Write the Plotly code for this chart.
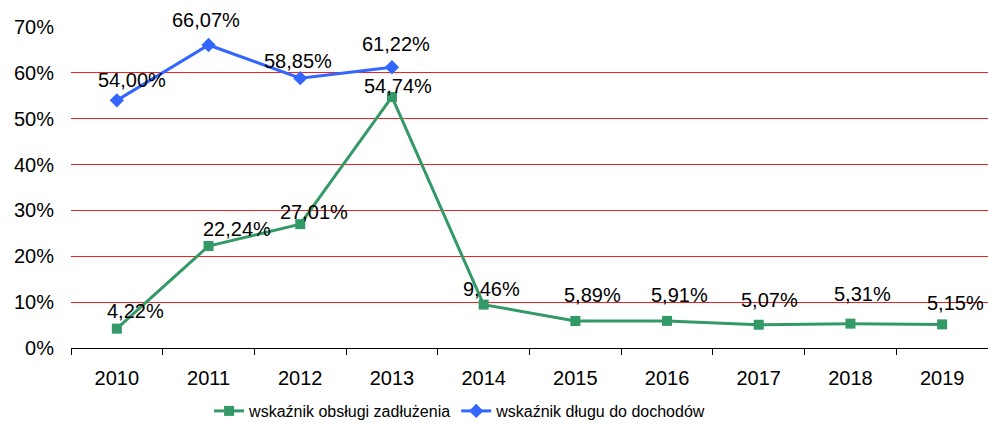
import plotly.graph_objects as go

# Years on the category axis
years = ["2010", "2011", "2012", "2013", "2014", "2015", "2016", "2017", "2018", "2019"]

# Debt service ratio (%), all years
obsluga = [4.22, 22.24, 27.01, 54.74, 9.46, 5.89, 5.91, 5.07, 5.31, 5.15]

# Debt-to-revenue ratio (%), 2010-2013 only
dlug_years = ["2010", "2011", "2012", "2013"]
dlug = [54.00, 66.07, 58.85, 61.22]

y_ticks = [0, 10, 20, 30, 40, 50, 60, 70]
y_tick_text = [f"{v}%" for v in y_ticks]

# Pixel nudges for the value labels (dx right, dy up)
obsluga_label_shift = [(19, 18), (28, 17), (14, 12), (6, 11), (8, 16),
                       (17, 26), (12, 26), (11, 25), (12, 30), (13, 21)]
dlug_label_shift = [(15, 20), (-3, 25), (-2, 17), (4, 23)]

GREEN = "#339966"
BLUE = "#3366FF"
FONT = "Liberation Sans, Arial, sans-serif"


def pl(v):
    return f"{v:.2f}".replace(".", ",") + "%"


fig = go.Figure()
fig.add_trace(go.Scatter(
    x=years, y=obsluga, mode="lines+markers",
    name="wskaźnik obsługi zadłużenia",
    line=dict(color=GREEN, width=3),
    marker=dict(symbol="square", size=10, color=GREEN),
))
fig.add_trace(go.Scatter(
    x=dlug_years, y=dlug, mode="lines+markers",
    name="wskaźnik długu do dochodów",
    line=dict(color=BLUE, width=3),
    marker=dict(symbol="diamond", size=11, color=BLUE),
))


def value_labels(xs, vs, shifts):
    out = []
    for x, v, (dx, dy) in zip(xs, vs, shifts):
        out.append(dict(x=years.index(x), y=v, xref="x", yref="y",
                        text=pl(v), showarrow=False,
                        xshift=dx, yshift=dy, xanchor="center", yanchor="middle",
                        font=dict(family=FONT, size=20, color="#000000")))
    return out


annotations = value_labels(years, obsluga, obsluga_label_shift) + \
    value_labels(dlug_years, dlug, dlug_label_shift)

fig.update_layout(
    width=988, height=428,
    margin=dict(l=71, r=0, t=27, b=80, pad=0),
    paper_bgcolor="white", plot_bgcolor="white",
    font=dict(family=FONT, size=20, color="#000000"),
    showlegend=True,
    legend=dict(orientation="h", x=0.1506, xanchor="left", y=-0.25, yanchor="bottom",
                font=dict(family=FONT, size=16, color="#000000"),
                itemwidth=30, bgcolor="rgba(0,0,0,0)"),
    annotations=annotations,
)
fig.update_xaxes(
    type="category", categoryorder="array", categoryarray=years,
    range=[-0.5, 9.5],
    showgrid=False, zeroline=False,
    showline=True, linecolor="#000000", linewidth=1,
    ticks="outside", ticklen=6, tickcolor="#000000", tickson="boundaries",
    ticklabelstandoff=12,
    tickfont=dict(family=FONT, size=20, color="#000000"),
)
fig.update_yaxes(
    range=[0, 70], tickvals=y_ticks, ticktext=y_tick_text,
    showgrid=True, gridcolor="#ee2222", gridwidth=1,
    zeroline=False, showline=False, ticks="",
    ticklabelstandoff=16,
    tickfont=dict(family=FONT, size=20, color="#000000"),
)

fig.write_html("out.html")
